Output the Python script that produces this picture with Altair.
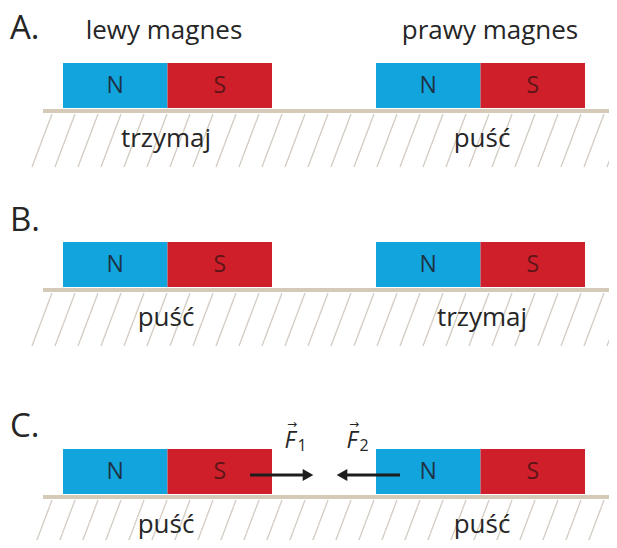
import altair as alt
import pandas as pd

# ---- diagram data (reference pixel units) ----
panel_names = ["A.", "B.", "C."]
panel_label_y = [29, 221, 427]
ground_y = [111, 290, 497]
left_labels = ["trzymaj", "puść", "puść"]
right_labels = ["puść", "trzymaj", "puść"]
label_x = [166, 482]
header_texts = ["lewy magnes", "prawy magnes"]
header_x = [164, 490]
header_y = [31, 31]
magnet_left = [63, 376]
pole_width = 104.5
pole_names = ["N", "S"]
pole_colors = ["#12a5dd", "#cf1f2b"]
pole_text_colors = ["#1d3344", "#5e1518"]
hatch_tops = list(range(52, 640, 23))
force_names = ["F", "F"]
force_sub = ["1", "2"]
force_label_x = [290, 352]
force_from = [250, 400]
force_to = [307, 343]
force_shapes = ["triangle-right", "triangle-left"]
force_y = 475

X0, X1, Y0, Y1 = 8, 609, 8, 540
W, H = X1 - X0, Y1 - Y0

def X(f="x"):
    return alt.X(f"{f}:Q", scale=alt.Scale(domain=[X0, X1], nice=False, zero=False), axis=None)

def Y(f="y"):
    return alt.Y(f"{f}:Q", scale=alt.Scale(domain=[Y0, Y1], nice=False, zero=False, reverse=True), axis=None)

rects = []
letters = []
for p, g in enumerate(ground_y):
    for m, ml in enumerate(magnet_left):
        for k, pn in enumerate(pole_names):
            x = ml + k * pole_width
            rects.append({"x": x, "x2": x + pole_width, "y": g - 48, "y2": g - 3, "pole": pn})
            letters.append({"x": x + pole_width / 2, "y": g - 25, "t": pn, "pole": pn})
rect_df = pd.DataFrame(rects)
let_df = pd.DataFrame(letters)

ground_df = pd.DataFrame({"x": [43] * 3, "x2": [640] * 3, "y": ground_y})

hatch = []
for g in ground_y:
    for t in hatch_tops:
        hatch.append({"x": t, "y": g + 3, "x2": t - 20, "y2": g + 56})
hatch_df = pd.DataFrame(hatch)

panel_df = pd.DataFrame({"x": [10] * 3, "y": panel_label_y, "t": panel_names})
head_df = pd.DataFrame({"x": header_x, "y": header_y, "t": header_texts})
lab = []
for p, g in enumerate(ground_y):
    lab.append({"x": label_x[0], "y": g + 28, "t": left_labels[p]})
    lab.append({"x": label_x[1], "y": g + 28, "t": right_labels[p]})
lab_df = pd.DataFrame(lab)

arrow_df = pd.DataFrame({"x": force_from, "x2": force_to, "y": [force_y] * 2})
head_pts = pd.DataFrame({"x": [force_to[0] + 1, force_to[1] - 1], "y": [force_y] * 2, "s": force_shapes})
F_df = pd.DataFrame({"x": force_label_x, "y": [441, 441], "t": force_names})
sub_df = pd.DataFrame({"x": [v + 12 for v in force_label_x], "y": [446, 446], "t": force_sub})
vec_df = pd.DataFrame({"x": [v + 2 for v in force_label_x], "y": [424, 424], "t": ["→", "→"]})

FONT = "Open Sans"
TXT = "#262626"

hatch_l = alt.Chart(hatch_df).mark_rule(color="#d3ccc2", strokeWidth=1.3).encode(
    x=X(), y=Y(), x2="x2:Q", y2="y2:Q")
ground_l = alt.Chart(ground_df).mark_rule(color="#d5c9b8", strokeWidth=4).encode(
    x=X(), x2="x2:Q", y=Y())
rect_l = alt.Chart(rect_df).mark_rect().encode(
    x=X(), x2="x2:Q", y=Y(), y2="y2:Q",
    color=alt.Color("pole:N", scale=alt.Scale(domain=pole_names, range=pole_colors), legend=None))
let_l = alt.Chart(let_df).mark_text(font=FONT, fontSize=23, align="center", baseline="middle").encode(
    x=X(), y=Y(), text="t:N",
    color=alt.Color("pole:N", scale=alt.Scale(domain=pole_names, range=pole_text_colors), legend=None))
panel_l = alt.Chart(panel_df).mark_text(font=FONT, fontSize=33, align="left", baseline="middle", color=TXT).encode(
    x=X(), y=Y(), text="t:N")
head_l = alt.Chart(head_df).mark_text(font=FONT, fontSize=26, align="center", baseline="middle", color=TXT).encode(
    x=X(), y=Y(), text="t:N")
lab_l = alt.Chart(lab_df).mark_text(font=FONT, fontSize=26, align="center", baseline="middle", color=TXT).encode(
    x=X(), y=Y(), text="t:N")
arrow_l = alt.Chart(arrow_df).mark_rule(color="#1e1e1e", strokeWidth=3).encode(
    x=X(), x2="x2:Q", y=Y())
head_pt_l = alt.Chart(head_pts).mark_point(filled=True, size=150, opacity=1, color="#1e1e1e").encode(
    x=X(), y=Y(),
    shape=alt.Shape("s:N", scale=alt.Scale(domain=force_shapes, range=force_shapes), legend=None))
F_l = alt.Chart(F_df).mark_text(font=FONT, fontSize=23, fontStyle="italic", align="center", baseline="middle", color=TXT).encode(
    x=X(), y=Y(), text="t:N")
sub_l = alt.Chart(sub_df).mark_text(font=FONT, fontSize=16, align="center", baseline="middle", color=TXT).encode(
    x=X(), y=Y(), text="t:N")
vec_l = alt.Chart(vec_df).mark_text(font="DejaVu Sans", fontSize=12, align="center", baseline="middle", color=TXT).encode(
    x=X(), y=Y(), text="t:N")

chart = alt.layer(
    hatch_l, ground_l, rect_l, let_l, panel_l, head_l, lab_l, arrow_l, head_pt_l, F_l, sub_l, vec_l
).resolve_scale(color="independent").properties(
    width=W, height=H, padding=0, autosize=alt.AutoSizeParams(type="none")
).configure_view(stroke=None)

chart.save("out.html", embed_options={"renderer": "svg", "actions": False})
